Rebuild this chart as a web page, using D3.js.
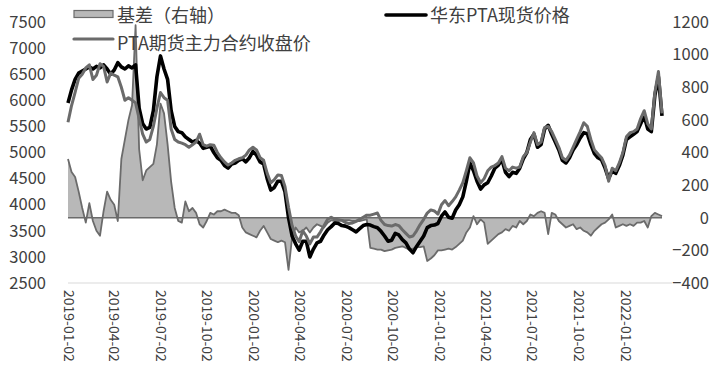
<!DOCTYPE html>
<html>
<head>
<meta charset="utf-8">
<script src="https://cdn.jsdelivr.net/npm/d3@7"></script>
<style>
  html, body { margin: 0; padding: 0; background: #fff; }
  svg { display: block; }
  text { font-family: "Noto Sans CJK SC", "Noto Sans", sans-serif; fill: #404040; }
</style>
</head>
<body>
<svg id="chart" width="727" height="391"></svg>
<script>
// ---- data (weekly samples starting 2019-01-02) ----
const startDate = "2019-01-02";
const endDate = "2022-03-16";

const spotPrice = [
5950,6200,6400,6520,6560,6600,6640,6600,6650,6620,
6680,6600,6500,6580,6720,6640,6600,6660,6620,6680,
5850,5550,5450,5480,5800,6450,6850,6600,6400,5800,
5500,5400,5380,5300,5250,5200,5230,5180,5080,5100,
5120,5000,4900,4850,4750,4700,4780,4800,4850,4880,
4820,4900,5020,4950,4820,4780,4500,4280,4330,4450,
4450,4250,3750,3400,3250,3130,3300,3300,3000,3150,
3270,3300,3420,3520,3580,3650,3640,3600,3590,3560,
3520,3480,3540,3600,3620,3610,3580,3560,3490,3400,
3300,3320,3450,3420,3330,3270,3150,3080,3200,3300,
3400,3560,3600,3610,3640,3780,3860,3760,3740,3900,
4000,4150,4450,4800,4650,4450,4300,4380,4420,4550,
4700,4760,4860,4620,4540,4620,4600,4700,4880,5000,
5250,5350,5100,5150,5450,5520,5350,5200,5050,4850,
4800,4900,5050,5150,5280,5380,5360,5150,4980,4900,
4860,4700,4500,4650,4600,4750,4950,5250,5300,5350,
5400,5550,5700,5450,5400,6100,6450,5700
];

const futuresPrice = [
5580,5900,6150,6420,6500,6620,6680,6400,6480,6700,
6650,6350,6520,6480,6450,6250,6000,6050,6000,5950,
5650,5350,5200,5250,5500,5850,6150,6050,6000,5450,
5250,5200,5180,5150,5100,5150,5200,5350,5150,5120,
5150,5140,5000,4900,4820,4760,4800,4850,4880,4900,
4950,5050,5100,5050,4900,4850,4600,4420,4480,4570,
4560,4350,3950,3600,3400,3290,3500,3400,3250,3380,
3380,3480,3600,3720,3760,3720,3710,3700,3660,3640,
3650,3680,3720,3760,3800,3800,3820,3840,3700,3620,
3600,3590,3620,3600,3520,3450,3380,3400,3500,3620,
3720,3840,3900,3880,3820,4000,4080,3980,4060,4150,
4280,4420,4650,4900,4800,4550,4420,4500,4650,4720,
4750,4800,4920,4700,4650,4720,4700,4720,4920,5000,
5200,5380,5150,5200,5480,5500,5400,5250,5100,4900,
4850,4950,5100,5250,5400,5570,5500,5250,5050,4970,
4900,4750,4450,4700,4650,4800,5000,5300,5380,5400,
5450,5650,5800,5550,5450,6150,6550,5750
];

const basis = [
360,280,250,160,60,-30,90,-20,-80,-110,
40,160,110,80,-20,360,480,600,690,1180,
420,230,290,310,330,450,700,640,450,220,
60,-20,-30,100,40,60,30,-40,-60,-20,
30,20,40,40,50,40,30,30,15,-60,
-90,-100,-110,-120,-80,-50,-90,-130,-140,-150,
-140,-150,-320,-120,-60,-90,-80,-60,-90,-60,
-40,-50,-60,-30,-15,-20,-20,-15,-15,-15,
-20,-20,-20,-15,-10,-185,-190,-195,-195,-205,
-200,-195,-185,-180,-175,-185,-195,-190,-180,-180,
-175,-265,-250,-230,-200,-200,-195,-190,-195,-180,
-160,-140,-90,-60,10,-40,-10,-30,-160,-140,
-120,-100,-90,-70,-80,-50,-60,-20,-40,-20,
20,10,30,40,30,-100,30,20,-20,-40,
-60,-50,-40,-70,-60,-80,-90,-110,-80,-60,
-40,-30,-10,20,-60,-50,-40,-50,-40,-50,
-30,-30,-20,-60,10,30,20,10
];

const leftTicks = [2500,3000,3500,4000,4500,5000,5500,6000,6500,7000,7500];
const rightTicks = [-400,-200,0,200,400,600,800,1000,1200];
const dateTicks = ["2019-01-02","2019-04-02","2019-07-02","2019-10-02","2020-01-02","2020-04-02","2020-07-02","2020-10-02","2021-01-02","2021-04-02","2021-07-02","2021-10-02","2022-01-02"];

const legendBasis = "基差（右轴）";
const legendSpot = "华东PTA现货价格";
const legendFutures = "PTA期货主力合约收盘价";

// ---- build ----
const parse = d3.timeParse("%Y-%m-%d");
const t0 = parse(startDate);
const dates = spotPrice.map((_, i) => d3.timeDay.offset(t0, 7 * i));

const svg = d3.select("#chart");
const plotTop = 22, plotBottom = 283, plotLeft = 68, plotRight = 662;

const x = d3.scaleTime().domain([t0, parse(endDate)]).range([plotLeft, plotRight]);
const yL = d3.scaleLinear().domain([2500, 7500]).range([plotBottom, plotTop]);
const yR = d3.scaleLinear().domain([-400, 1200]).range([plotBottom, plotTop]);

const gray = "#6b6b6b";

// basis area
const area = d3.area().x((d, i) => x(dates[i])).y0(yR(0)).y1(d => yR(d));
svg.append("path").datum(basis).attr("d", area).attr("fill", "#b8b8b8").attr("stroke", "none");
svg.append("line").attr("x1", x(dates[0])).attr("x2", x(dates[dates.length - 1]))
  .attr("y1", yR(0)).attr("y2", yR(0)).attr("stroke", gray).attr("stroke-width", 1.6);
const bline = d3.line().x((d, i) => x(dates[i])).y(d => yR(d));
svg.append("path").datum(basis).attr("d", bline).attr("fill", "none")
  .attr("stroke", gray).attr("stroke-width", 1.8).attr("stroke-linejoin", "round");

// spot line
const lineL = d3.line().x((d, i) => x(dates[i])).y(d => yL(d));
svg.append("path").datum(spotPrice).attr("d", lineL).attr("fill", "none")
  .attr("stroke", "#000").attr("stroke-width", 3.6).attr("stroke-linejoin", "round");
// futures line
svg.append("path").datum(futuresPrice).attr("d", lineL).attr("fill", "none")
  .attr("stroke", gray).attr("stroke-width", 3).attr("stroke-linejoin", "round");

// bottom axis line
svg.append("line").attr("x1", plotLeft).attr("x2", 672).attr("y1", plotBottom).attr("y2", plotBottom)
  .attr("stroke", "#d9d9d9").attr("stroke-width", 1);

// left axis
const gL = svg.append("g").attr("transform", "translate(46,0)")
  .call(d3.axisLeft(yL).tickValues(leftTicks).tickSize(0).tickPadding(0).tickFormat(d3.format("d")));
gL.select(".domain").remove();
gL.selectAll("text").attr("font-size", "16.5px").attr("fill", "#404040").attr("font-family", "\"Noto Sans CJK SC\", sans-serif");

// right axis
const gR = svg.append("g").attr("transform", "translate(709,0)")
  .call(d3.axisLeft(yR).tickValues(rightTicks).tickSize(0).tickPadding(0).tickFormat(d3.format("d")));
gR.select(".domain").remove();
gR.selectAll("text").attr("font-size", "16.5px").attr("fill", "#404040").attr("font-family", "\"Noto Sans CJK SC\", sans-serif");

// x labels rotated
const gX = svg.append("g").attr("transform", `translate(0,${plotBottom})`)
  .call(d3.axisBottom(x).tickValues(dateTicks.map(parse)).tickSize(0).tickFormat(d3.timeFormat("%Y-%m-%d")));
gX.select(".domain").remove();
gX.selectAll("text")
  .attr("transform", "rotate(90)")
  .attr("x", 7).attr("y", 0).attr("dy", "0.35em")
  .style("text-anchor", "start")
  .attr("font-size", "14px").attr("fill", "#404040").attr("font-family", "\"Noto Sans CJK SC\", sans-serif");

// legend
const lg = svg.append("g");
lg.append("rect").attr("x", 74).attr("y", 10.5).attr("width", 39).attr("height", 7)
  .attr("fill", "#b8b8b8").attr("stroke", gray).attr("stroke-width", 1.2);
lg.append("text").attr("x", 117).attr("y", 16).attr("dy", "0.35em").attr("font-size", "18px").text(legendBasis);
lg.append("line").attr("x1", 74).attr("x2", 113).attr("y1", 39).attr("y2", 39)
  .attr("stroke", gray).attr("stroke-width", 3.2).attr("stroke-linecap", "round");
lg.append("text").attr("x", 117).attr("y", 44).attr("dy", "0.35em").attr("font-size", "18px").text(legendFutures);
lg.append("line").attr("x1", 386).attr("x2", 426).attr("y1", 15).attr("y2", 15)
  .attr("stroke", "#000").attr("stroke-width", 3.6).attr("stroke-linecap", "round");
lg.append("text").attr("x", 430).attr("y", 16).attr("dy", "0.35em").attr("font-size", "18px").text(legendSpot);
</script>
</body>
</html>
